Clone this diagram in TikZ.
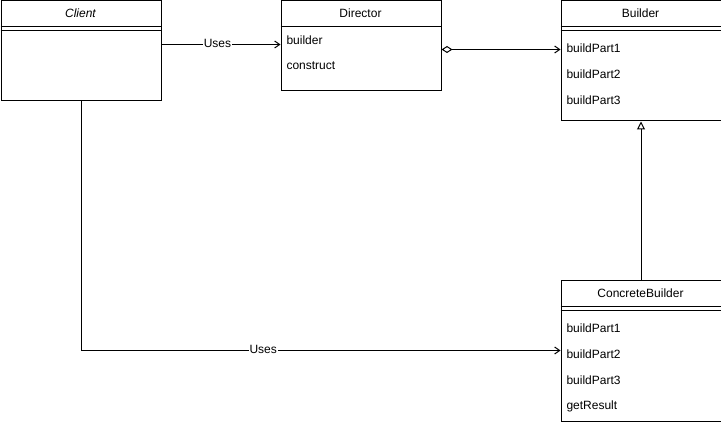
\documentclass[tikz,border=0pt]{standalone}
\usepackage{fontspec}
\setmainfont{Liberation Sans}
\usetikzlibrary{arrows.meta,calc}

\begin{document}
\begin{tikzpicture}[x=1pt,y=-1pt,>={Straight Barb[length=5pt,width=7pt]},
  font=\fontsize{12}{14}\selectfont,line width=1pt,
  cls/.style={draw,minimum width=160pt,anchor=north west,inner sep=0pt},
  item/.style={anchor=west,inner sep=0pt},
  lbl/.style={fill=white,inner sep=1pt,yshift=1.5pt}]
  \useasboundingbox (0,0) rectangle (721,422);
  % class boxes
  \node[cls,minimum height=100pt] (client) at (.5,.5) {};
  \node[cls,minimum height=90pt] (director) at (280.5,.5) {};
  \node[cls,minimum height=120pt] (builder) at (560.5,.5) {};
  \node[cls,minimum height=140pt] (concrete) at (560.5,280.5) {};
  % titles and separators
  \node (clientT) at (80.5,13.5) {\itshape Client};
  \draw (0.5,26.5) -- (160.5,26.5) (0.5,30.5) -- (160.5,30.5);
  \node (directorT) at (360.5,13.5) {Director};
  \draw (280.5,26.5) -- (440.5,26.5);
  \node (builderT) at (640.5,13.5) {Builder};
  \draw (560.5,26.5) -- (720.5,26.5) (560.5,30.5) -- (720.5,30.5);
  \node (concreteT) at (640.5,293.5) {ConcreteBuilder};
  \draw (560.5,306.5) -- (720.5,306.5) (560.5,310.5) -- (720.5,310.5);
  % members
  \node[item] (dBuilder) at (286,40) {builder};
  \node[item] (dConstruct) at (286,66) {construct};
  \foreach \i/\y in {1/48,2/74,3/100}
    \node[item] (bPart\i) at (566,\y) {buildPart\i};
  \foreach \i/\y in {1/328,2/354,3/380}
    \node[item] (cPart\i) at (566,\y) {buildPart\i};
  \node[item] (cResult) at (566,406) {getResult};
  % relations
  \draw[->] ($(client.north east)+(0,44)$) -- ($(director.north west)+(0,44)$)
    node[lbl,pos=.47] (uses1) {Uses};
  \draw[{Diamond[open,length=11pt,width=7pt]}->] ($(director.north east)+(0,49)$)
    -- ($(builder.north west)+(0,49)$);
  \draw[-{Triangle[open,length=8pt,width=8pt]}] (concrete.north) -- (builder.south);
  \draw[->] (client.south) |- ($(concrete.north west)+(0,70)$)
    node[lbl,pos=.69] (uses2) {Uses};
\end{tikzpicture}
\end{document}
